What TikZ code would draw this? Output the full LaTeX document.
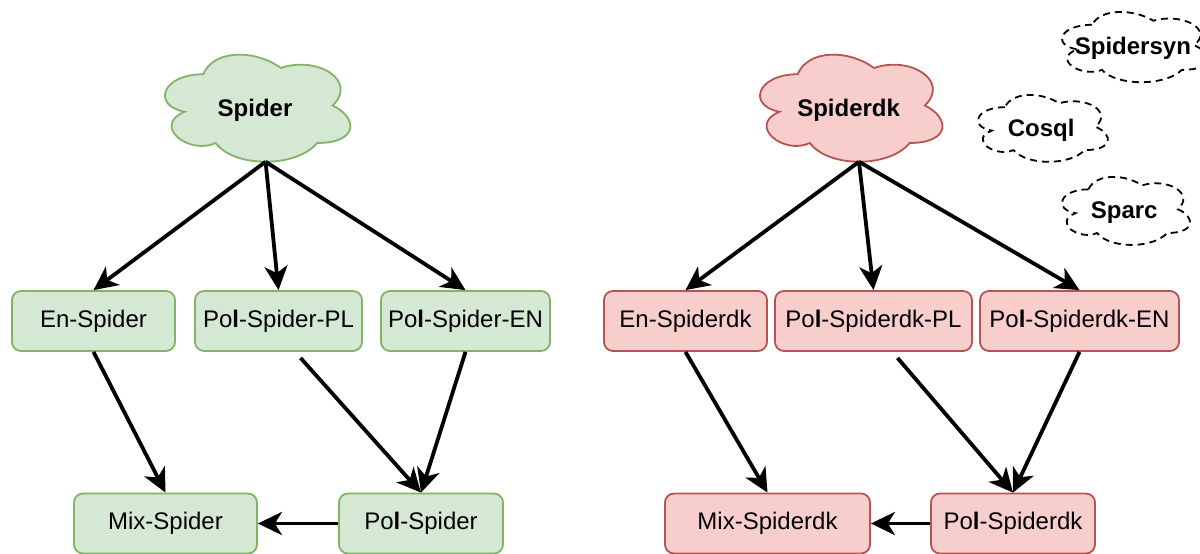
\documentclass[tikz,border=0pt]{standalone}
\usepackage{fontspec}
\setmainfont{Liberation Sans}
\usetikzlibrary{arrows.meta}

\definecolor{gfill}{HTML}{D5E8D4}
\definecolor{gline}{HTML}{82B366}
\definecolor{rfill}{HTML}{F8CECC}
\definecolor{rline}{HTML}{B85450}

% cloud outline: #1 style, #2 name, #3 left, #4 top, #5 width, #6 height, #7 label
\newcommand{\dcloud}[7]{%
  \begin{scope}[shift={(#3,#4)}, x=#5pt, y=-#6pt]
    \path[#1] (0.25,0.25) .. controls (0.05,0.25) and (0,0.5) .. (0.16,0.55)
      .. controls (0,0.66) and (0.18,0.9) .. (0.31,0.8)
      .. controls (0.4,1) and (0.7,1) .. (0.8,0.8)
      .. controls (1,0.8) and (1,0.6) .. (0.875,0.5)
      .. controls (1,0.3) and (0.8,0.1) .. (0.625,0.2)
      .. controls (0.5,0.05) and (0.3,0.05) .. cycle;
    \node[cloudlabel] (#2) at (0.5,0.54) {#7};
    \coordinate (#2-bot) at (0.551,0.95);
  \end{scope}}

\begin{document}
\begin{tikzpicture}[x=1pt, y=-1pt,
  cloudlabel/.style={font=\fontsize{24}{28}\selectfont\bfseries, inner sep=0pt},
  greencloud/.style={fill=gfill, draw=gline, line width=1.8pt},
  redcloud/.style={fill=rfill, draw=rline, line width=1.8pt},
  dashcloud/.style={draw=black, line width=1.8pt, dash pattern=on 7pt off 5pt},
  box/.style={rectangle, rounded corners=9pt, line width=1.8pt, minimum height=60pt,
    inner sep=0pt, font=\fontsize{24}{28}\selectfont},
  gbox/.style={box, fill=gfill, draw=gline},
  rbox/.style={box, fill=rfill, draw=rline},
  flow/.style={draw=black, line width=3.8pt,
    -{Stealth[length=24pt, width=23pt, inset=7pt]}}]

\useasboundingbox (0,0) rectangle (1200,554);
\clip (0,0) rectangle (1200,554);

% source clouds
\dcloud{greencloud}{spider}{151.5}{43}{207}{125}{Spider}
\dcloud{redcloud}{spiderdk}{746.8}{43}{203.6}{125}{Spiderdk}

% further datasets
\dcloud{dashcloud}{spidersyn}{1051.4}{4.3}{163}{82}{Spidersyn}
\dcloud{dashcloud}{cosql}{968.6}{87.7}{145}{78}{Cosql}
\dcloud{dashcloud}{sparc}{1052.7}{169.5}{143}{79.4}{Sparc}

% Spider family
\node[gbox, minimum width=163pt] (ensp)  at (93.5,321) {En-Spider};
\node[gbox, minimum width=167pt] (polpl) at (278.5,321) {Po\textbf{l}-Spider-PL};
\node[gbox, minimum width=169pt] (polen) at (465.5,321) {Po\textbf{l}-Spider-EN};
\node[gbox, minimum width=183pt] (mix)   at (165.5,523.5) {Mix-Spider};
\node[gbox, minimum width=164pt] (pol)   at (421,523.5) {Po\textbf{l}-Spider};

% Spiderdk family
\node[rbox, minimum width=163pt] (enspdk)  at (685.5,321) {En-Spiderdk};
\node[rbox, minimum width=197pt] (polpldk) at (873.5,321) {Po\textbf{l}-Spiderdk-PL};
\node[rbox, minimum width=199pt] (polendk) at (1079.5,321) {Po\textbf{l}-Spiderdk-EN};
\node[rbox, minimum width=205pt] (mixdk)   at (767.5,523.5) {Mix-Spiderdk};
\node[rbox, minimum width=164pt] (poldk)   at (1013,523.5) {Po\textbf{l}-Spiderdk};

% connectors
\draw[flow] (spider-bot) -- (ensp.north);
\draw[flow] (spider-bot) -- (polpl.north);
\draw[flow] (spider-bot) -- (polen.north);
\draw[flow] (ensp.south) -- (mix.north);
\draw[flow] ([xshift=22pt, yshift=-6pt]polpl.south) -- (pol.north);
\draw[flow] (polen.south) -- (pol.north);
\draw[flow] (pol.west) -- (mix.east);

\draw[flow] (spiderdk-bot) -- (enspdk.north);
\draw[flow] (spiderdk-bot) -- (polpldk.north);
\draw[flow] (spiderdk-bot) -- (polendk.north);
\draw[flow] (enspdk.south) -- (mixdk.north);
\draw[flow] ([xshift=24pt, yshift=-6pt]polpldk.south) -- (poldk.north);
\draw[flow] (polendk.south) -- (poldk.north);
\draw[flow] (poldk.west) -- (mixdk.east);

\end{tikzpicture}
\end{document}
